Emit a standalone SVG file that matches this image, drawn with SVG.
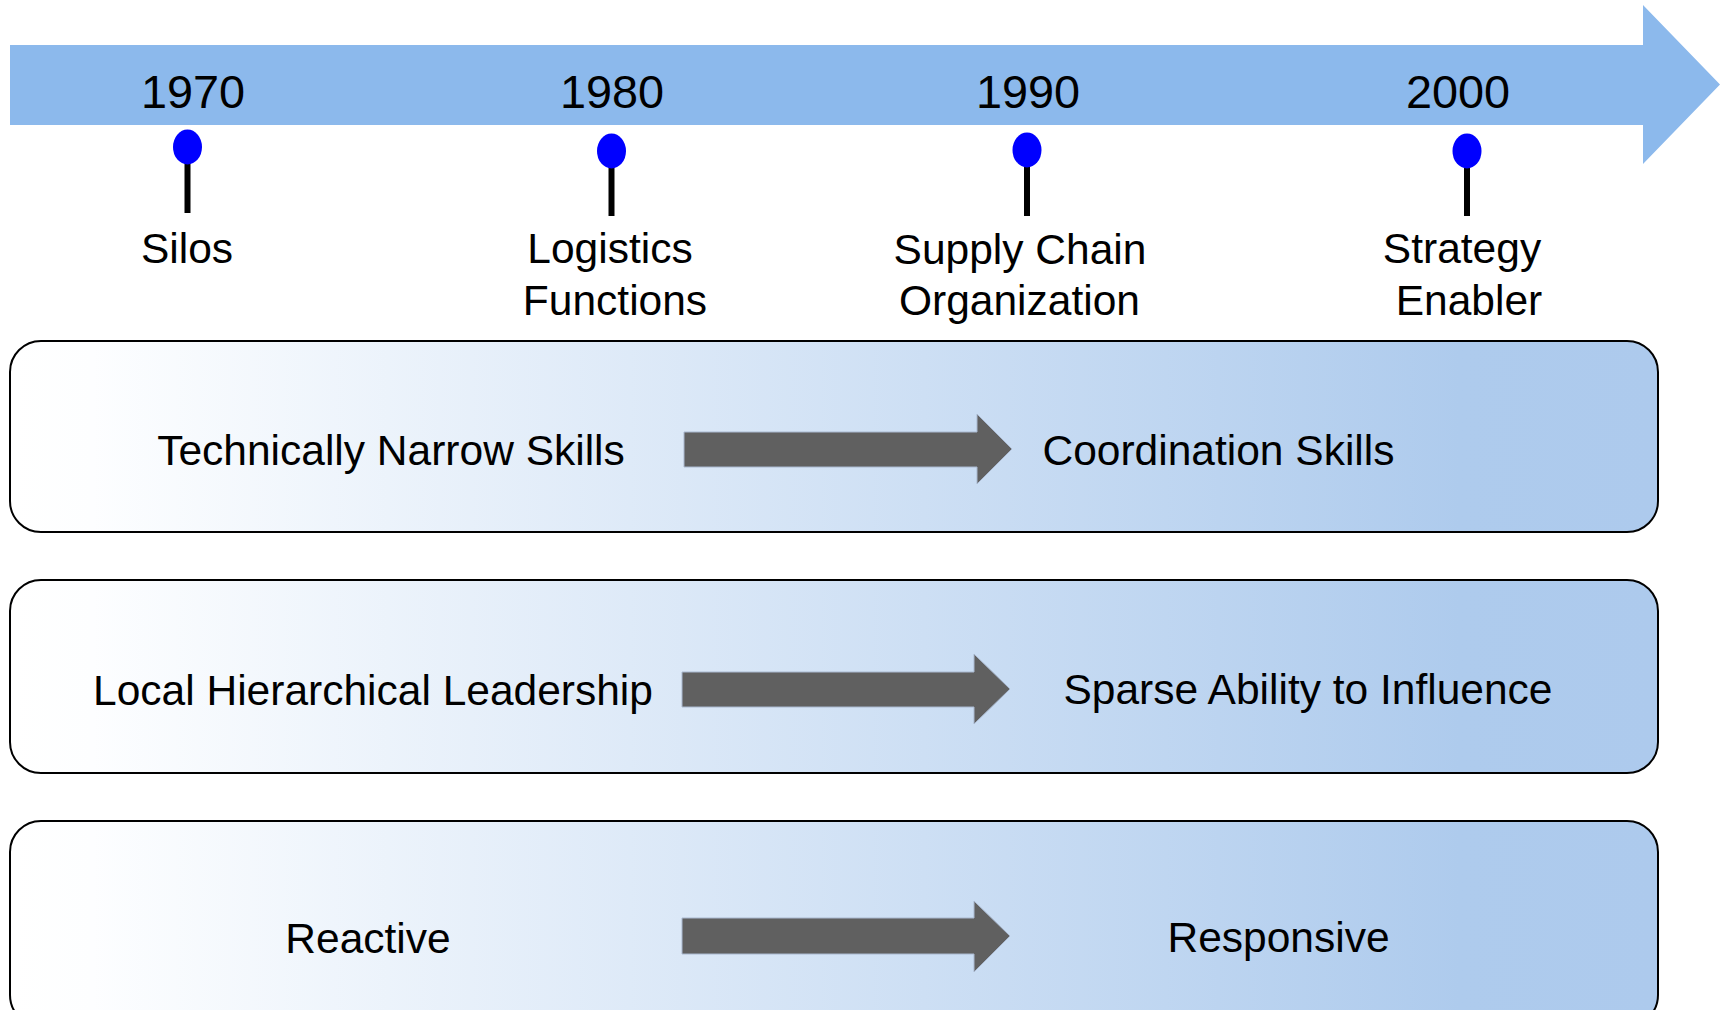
<svg xmlns="http://www.w3.org/2000/svg" width="1729" height="1010" viewBox="0 0 1729 1010">
  <defs>
    <linearGradient id="boxFill" gradientUnits="userSpaceOnUse" x1="10" y1="0" x2="1658" y2="0">
      <stop offset="0" stop-color="#ffffff"/>
      <stop offset="0.05" stop-color="#fdfeff"/>
      <stop offset="0.88" stop-color="#aecbed"/>
      <stop offset="1" stop-color="#adcaed"/>
    </linearGradient>
    <style>
      text { font-family: "Liberation Sans", Arial, sans-serif; fill: #000000; text-anchor: middle; }
      .year { font-size: 46.8px; }
      .label { font-size: 42.5px; }
      .band { fill: #8cb9ec; }
      .pin-head { fill: #0000ff; }
      .pin-stem { stroke: #000000; stroke-width: 6; }
      .box { fill: url(#boxFill); stroke: #000000; stroke-width: 2; }
      .flow { fill: #606060; stroke: #a9b8cf; stroke-width: 1; }
    </style>
  </defs>

  <rect width="1729" height="1010" fill="#ffffff"/>

  <!-- timeline band with arrow head -->
  <g id="timeline">
    <path class="band" d="M10,45 H1643 V5 L1720,84.5 L1643,164 V125 H10 Z"/>
    <text class="year" x="193" y="108">1970</text>
    <text class="year" x="612" y="108">1980</text>
    <text class="year" x="1028" y="108">1990</text>
    <text class="year" x="1458" y="108">2000</text>
  </g>

  <!-- milestones -->
  <g id="milestone-1970">
    <line class="pin-stem" x1="187.5" y1="160" x2="187.5" y2="213"/>
    <ellipse class="pin-head" cx="187.5" cy="147" rx="14.5" ry="17.5"/>
    <text class="label" x="187" y="263">Silos</text>
  </g>
  <g id="milestone-1980">
    <line class="pin-stem" x1="611.5" y1="164" x2="611.5" y2="216"/>
    <ellipse class="pin-head" cx="611.5" cy="151" rx="14.5" ry="17.5"/>
    <text class="label" x="610" y="263">Logistics</text>
    <text class="label" x="615" y="315">Functions</text>
  </g>
  <g id="milestone-1990">
    <line class="pin-stem" x1="1027" y1="163" x2="1027" y2="216"/>
    <ellipse class="pin-head" cx="1027" cy="150" rx="14.5" ry="17.5"/>
    <text class="label" x="1020" y="264">Supply Chain</text>
    <text class="label" x="1019.5" y="315">Organization</text>
  </g>
  <g id="milestone-2000">
    <line class="pin-stem" x1="1467" y1="164" x2="1467" y2="216"/>
    <ellipse class="pin-head" cx="1467" cy="151" rx="14.5" ry="17.5"/>
    <text class="label" x="1462" y="263">Strategy</text>
    <text class="label" x="1469" y="315">Enabler</text>
  </g>

  <!-- transition panels -->
  <g id="panel-skills">
    <rect class="box" x="10" y="341" width="1648" height="191" rx="31" ry="31"/>
    <text class="label" x="391" y="465">Technically Narrow Skills</text>
    <text class="label" x="1218.5" y="465">Coordination Skills</text>
  </g>
  <g id="panel-leadership">
    <rect class="box" x="10" y="580" width="1648" height="193" rx="31" ry="31"/>
    <text class="label" x="373" y="705">Local Hierarchical Leadership</text>
    <text class="label" x="1308" y="704">Sparse Ability to Influence</text>
  </g>
  <g id="panel-response">
    <rect class="box" x="10" y="821" width="1648" height="205" rx="31" ry="31"/>
    <text class="label" x="368" y="953">Reactive</text>
    <text class="label" x="1278.5" y="952">Responsive</text>
  </g>

  <!-- transition arrows -->
  <g id="connectors">
    <path class="flow" d="M684,432 H977 V414 L1012,449 L977,484 V467 H684 Z"/>
    <path class="flow" d="M682,672 H974 V654 L1010,689 L974,724 V707 H682 Z"/>
    <path class="flow" d="M682,918 H974 V901 L1010,936 L974,972 V954 H682 Z"/>
  </g>
</svg>
